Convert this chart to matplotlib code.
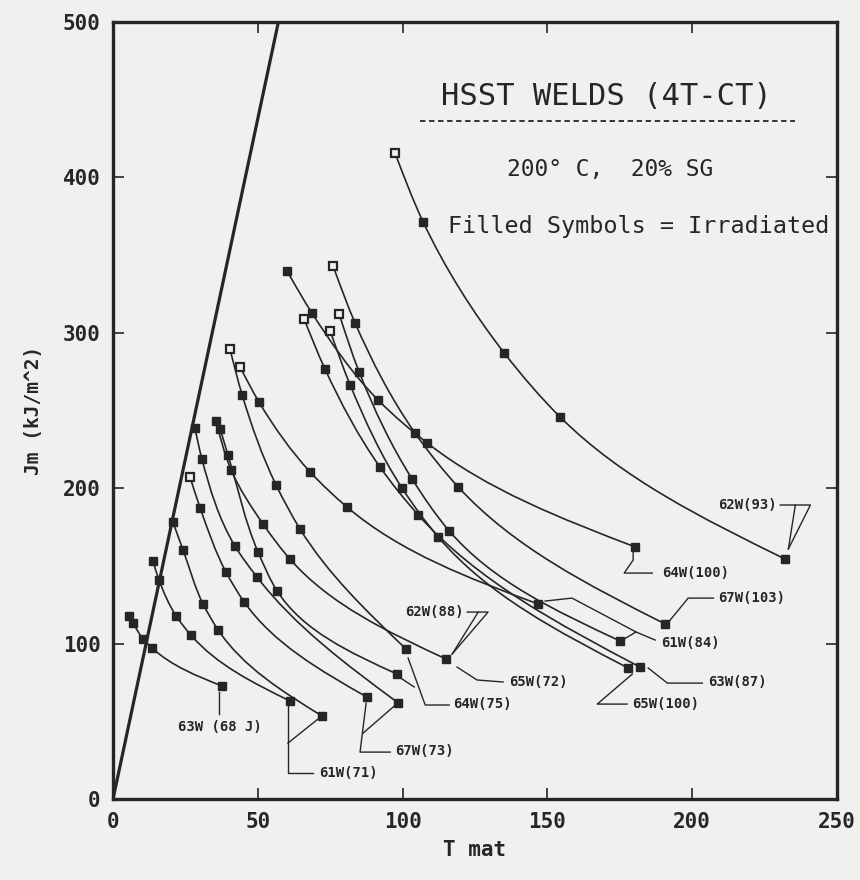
import numpy as np
import matplotlib.pyplot as plt
from matplotlib.path import Path
from matplotlib.patches import PathPatch

# ---- data: (T mat, Jm) at each symbol along a curve ----
w63_68_t = [5.5, 6.9, 10.4, 13.5, 37.7]
w63_68_j = [117.8, 113.3, 103.0, 97.2, 72.7]

w61_71a_t = [13.8, 15.9, 21.8, 26.9, 61.1]
w61_71a_j = [153.2, 140.9, 117.8, 105.5, 63.1]

w61_71b_t = [20.7, 24.2, 31.1, 36.3, 72.2]
w61_71b_j = [178.2, 160.2, 125.5, 108.8, 53.4]

w67_73a_t = [26.6, 30.1, 39.0, 45.3, 87.7]
w67_73a_j = [207.2, 187.3, 146.1, 126.8, 65.6]

w67_73b_t = [28.3, 30.7, 42.1, 49.7, 98.5]
w67_73b_j = [238.7, 218.8, 162.8, 142.9, 61.8]

w64_75a_t = [40.4, 44.6, 56.3, 64.6, 101.2]
w64_75a_j = [289.6, 260.0, 202.1, 173.7, 96.5]

w64_75b_t = [37.0, 39.7, 50.1, 56.7, 98.1]
w64_75b_j = [238.1, 221.4, 158.9, 133.8, 80.4]

w65_72_t = [35.6, 40.8, 51.8, 61.1, 115.0]
w65_72_j = [243.2, 211.7, 177.0, 154.4, 90.1]

w61_84a_t = [43.9, 50.4, 68.1, 80.8, 146.8]
w61_84a_j = [278.0, 255.5, 210.4, 187.9, 125.5]

w61_84b_t = [78.1, 85.0, 103.3, 116.1, 175.1]
w61_84b_j = [312.1, 274.8, 205.9, 172.5, 101.7]

w63_87_t = [66.0, 73.2, 92.2, 105.4, 182.0]
w63_87_j = [308.9, 276.7, 213.6, 182.8, 84.9]

w65_100_t = [75.0, 81.9, 99.8, 112.3, 177.9]
w65_100_j = [301.2, 266.4, 200.1, 168.6, 84.3]

w67_103_t = [76.0, 83.6, 104.3, 119.2, 190.7]
w67_103_j = [343.0, 306.3, 235.5, 200.8, 112.6]

w64_100_t = [60.1, 68.7, 91.5, 108.5, 180.3]
w64_100_j = [339.8, 312.7, 256.8, 229.1, 162.2]

w62_93_t = [97.4, 107.1, 135.1, 154.4, 232.1]
w62_93_j = [415.7, 371.3, 287.0, 245.8, 154.4]

# blunting line
blunt_t = [0, 57.1]
blunt_j = [0, 500]

# (T, J, first symbol open = unirradiated)
curves = [
    (w63_68_t, w63_68_j, False),
    (w61_71a_t, w61_71a_j, False),
    (w61_71b_t, w61_71b_j, False),
    (w67_73a_t, w67_73a_j, True),
    (w67_73b_t, w67_73b_j, False),
    (w64_75a_t, w64_75a_j, True),
    (w64_75b_t, w64_75b_j, False),
    (w65_72_t, w65_72_j, False),
    (w61_84a_t, w61_84a_j, True),
    (w61_84b_t, w61_84b_j, True),
    (w63_87_t, w63_87_j, True),
    (w65_100_t, w65_100_j, True),
    (w67_103_t, w67_103_j, True),
    (w64_100_t, w64_100_j, False),
    (w62_93_t, w62_93_j, True),
]

# curve labels: text, position, leader polylines
labels = [
    ("62W(93)", (219.0, 189.2), [[(230.4, 189.2), (240.8, 189.2), (233.2, 160.9)],
                                 [(235.6, 189.2), (233.2, 160.9)]]),
    ("64W(100)", (201.0, 145.4), [[(179.6, 158.9), (179.6, 153.8), (176.5, 145.4), (186.2, 145.4)]]),
    ("67W(103)", (220.4, 129.3), [[(207.3, 129.3), (198.6, 129.3), (192.4, 115.2)]]),
    ("61W(84)", (199.3, 100.4), [[(187.2, 102.3), (180.6, 107.5), (176.5, 103.0)],
                                 [(180.6, 107.5), (158.5, 129.3), (149.2, 127.4)]]),
    ("63W(87)", (215.5, 75.3), [[(203.5, 74.6), (191.4, 74.6), (184.8, 84.3)]]),
    ("65W(100)", (190.7, 61.1), [[(177.5, 61.1), (167.2, 61.1), (179.3, 80.4)]]),
    ("62W(88)", (110.9, 120.3), [[(122.3, 120.3), (129.5, 120.3), (117.1, 93.3)],
                                 [(126.1, 120.3), (117.1, 93.3)]]),
    ("65W(72)", (146.8, 75.3), [[(134.7, 75.3), (125.7, 76.6), (118.8, 84.9)]]),
    ("64W(75)", (127.5, 61.1), [[(116.1, 60.5), (107.8, 60.5), (101.9, 90.7)],
                                [(104.0, 72.1), (98.8, 78.5)]]),
    ("67W(73)", (107.4, 30.9), [[(95.7, 30.2), (85.3, 30.2), (87.4, 61.8)],
                                [(86.4, 42.5), (97.1, 59.8)]]),
    ("61W(71)", (81.2, 16.7), [[(69.1, 16.7), (60.4, 16.7), (60.4, 60.5)],
                               [(60.4, 36.0), (71.2, 52.1)]]),
    ("63W (68 J)", (37.0, 46.3), [[(36.6, 54.7), (36.6, 68.9)]]),
]

INK = '#262626'
PAPER = '#f0f0ee'
MONO = ['DejaVu Sans Mono', 'DejaVu Sans']


def smooth_path(t, j):
    # cubic Bezier through the symbols, Bessel tangents on chord length
    sx, sy = 2.895, 1.554
    P = np.column_stack([np.asarray(t) * sx, np.asarray(j) * sy])
    n = len(P)
    d = np.hypot(*np.diff(P, axis=0).T)
    c = np.diff(P, axis=0) / d[:, None]
    tan = np.zeros_like(P)
    for i in range(1, n - 1):
        tan[i] = (d[i] * c[i - 1] + d[i - 1] * c[i]) / (d[i - 1] + d[i])
    tan[0] = 1.5 * c[0] - 0.5 * tan[1]
    tan[-1] = 1.5 * c[-1] - 0.5 * tan[-2]
    verts = [P[0]]
    codes = [Path.MOVETO]
    for i in range(n - 1):
        verts += [P[i] + tan[i] * d[i] / 3, P[i + 1] - tan[i + 1] * d[i] / 3, P[i + 1]]
        codes += [Path.CURVE4] * 3
    return Path(np.array(verts) / [sx, sy], codes)


fig = plt.figure(figsize=(8.6, 8.8), dpi=100, facecolor=PAPER)
ax = fig.add_axes([0.1314, 0.0920, 0.8419, 0.8830])
ax.set_facecolor(PAPER)

ax.plot(blunt_t, blunt_j, color=INK, lw=2.3, solid_capstyle='butt')

for t, j, open_first in curves:
    ax.add_patch(PathPatch(smooth_path(t, j), fc='none', ec=INK, lw=1.2))
    ax.plot(t[1:], j[1:], ls='none', marker='s', ms=5.5, mfc=INK, mec=INK)
    if open_first:
        ax.plot(t[:1], j[:1], ls='none', marker='s', ms=6, mfc=PAPER, mec=INK, mew=1.6)
    else:
        ax.plot(t[:1], j[:1], ls='none', marker='s', ms=5.5, mfc=INK, mec=INK)

for text, (tx, ty), leaders in labels:
    ax.text(tx, ty, text, ha='center', va='center', fontsize=10, fontweight='bold',
            family=MONO, color=INK)
    for poly in leaders:
        xs, ys = zip(*poly)
        ax.plot(xs, ys, color=INK, lw=1.0)

ax.text(170.5, 452, "HSST WELDS (4T-CT)", ha='center', va='center', fontsize=22,
        family=MONO, color=INK)
ax.plot([106, 235.6], [436.3, 436.3], color=INK, lw=1.3, ls=(0, (3, 2)))
ax.text(171.7, 404.8, "200\u00b0 C,  20% SG", ha='center', va='center', fontsize=16.5,
        family=MONO, color=INK)
ax.text(181.5, 368.7, "Filled Symbols = Irradiated", ha='center', va='center', fontsize=16.8,
        family=MONO, color=INK)

ax.set_xlim(0, 250)
ax.set_ylim(0, 500)
ax.set_xticks(np.arange(0, 251, 50))
ax.set_yticks(np.arange(0, 501, 100))
ax.tick_params(direction='in', length=8, width=1.2, top=True, right=True, pad=9,
               labelsize=15, colors=INK)
for lab in ax.get_xticklabels() + ax.get_yticklabels():
    lab.set_family(MONO)
    lab.set_fontweight('bold')
for s in ax.spines.values():
    s.set_linewidth(2.4)
    s.set_color(INK)

ax.set_xlabel("T mat", fontsize=15, family=MONO, fontweight='bold', color=INK, labelpad=6)
ax.set_ylabel("Jm (kJ/m^2)", fontsize=14, family=MONO, fontweight='bold', color=INK, labelpad=14)

fig.savefig("out.png", dpi=100, facecolor=fig.get_facecolor())
